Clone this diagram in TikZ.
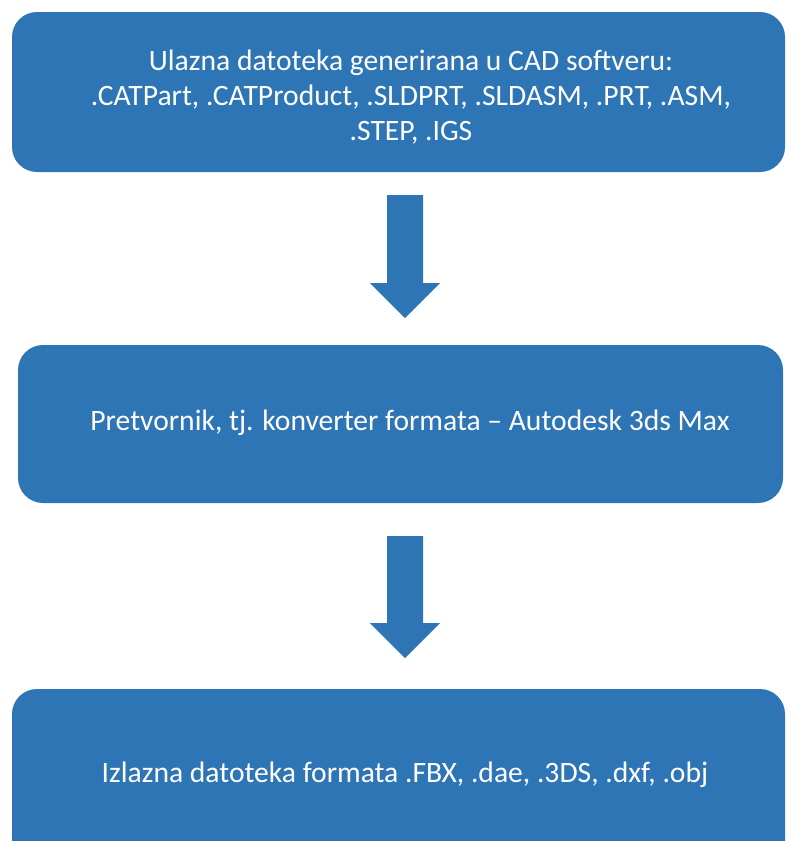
\documentclass[tikz,border=0pt]{standalone}
\usepackage{fontspec}
\setmainfont{Carlito}
\definecolor{boxblue}{HTML}{2E75B6}
\begin{document}
\begin{tikzpicture}[x=1pt,y=-1pt,
  boxshape/.style={fill=boxblue,rounded corners=25pt},
  boxtext/.style={text=white,font=\fontsize{29.6}{35}\selectfont,align=center,inner sep=0pt},
  arrowshape/.style={fill=boxblue}]
\useasboundingbox (0,0) rectangle (788,841);
\begin{scope}
\clip (0,0) rectangle (788,841);
\fill[boxshape] (12,12) rectangle (785,172);
\fill[boxshape] (18,345) rectangle (783,503);
\fill[boxshape] (12,689) rectangle (785,870);
\end{scope}
\node[boxtext,anchor=base] (t1) at (411,140) {Ulazna datoteka generirana u CAD softveru:\\.CATPart, .CATProduct, .SLDPRT, .SLDASM, .PRT, .ASM,\\.STEP, .IGS};
\node[boxtext,anchor=base] (t2) at (410,430) {Pretvornik, tj. konverter formata – Autodesk 3ds Max};
\node[boxtext,anchor=base] (t3) at (405,782) {Izlazna datoteka formata .FBX, .dae, .3DS, .dxf, .obj};
\fill[arrowshape] (387,195) -- (423,195) -- (423,283) -- (440,283) -- (405,318) -- (370,283) -- (387,283) -- cycle;
\fill[arrowshape] (387,536) -- (423,536) -- (423,623) -- (440,623) -- (405,658) -- (370,623) -- (387,623) -- cycle;
\end{tikzpicture}
\end{document}
